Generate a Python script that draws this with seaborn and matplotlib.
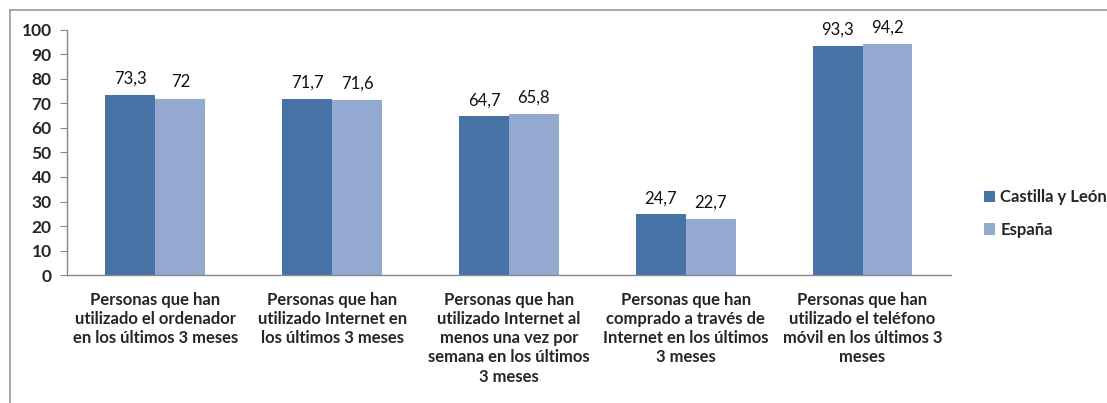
import matplotlib
matplotlib.use("Agg")
import matplotlib.pyplot as plt
import seaborn as sns
import pandas as pd
from matplotlib.lines import Line2D
from matplotlib.patches import Patch

categories = [
    "Personas que han\nutilizado el ordenador\nen los últimos 3 meses",
    "Personas que han\nutilizado Internet en\nlos últimos 3 meses",
    "Personas que han\nutilizado Internet al\nmenos una vez por\nsemana en los últimos\n3 meses",
    "Personas que han\ncomprado a través de\nInternet en los últimos\n3 meses",
    "Personas que han\nutilizado el teléfono\nmóvil en los últimos 3\nmeses",
]
series_names = ["Castilla y León", "España"]
castilla = [73.3, 71.7, 64.7, 24.7, 93.3]
espana = [72, 71.6, 65.8, 22.7, 94.2]
yticks = list(range(0, 101, 10))

colors = ["#4672A5", "#94A9CF"]

sns.set_style("white")
plt.rcParams['font.family'] = ['Lato', 'DejaVu Sans']

df = pd.DataFrame({
    "cat": categories * 2,
    "serie": [series_names[0]] * 5 + [series_names[1]] * 5,
    "val": castilla + espana,
})

fig = plt.figure(figsize=(11.07, 4.03), dpi=100)
ax = fig.add_axes([0.0605, 0.3176, 0.7985, 0.608])
sns.barplot(data=df, x="cat", y="val", hue="serie", palette=colors,
            width=0.565, saturation=1, ax=ax, legend=False, errorbar=None,
            linewidth=0, edgecolor="none")

def fmt(v):
    s = ("%.1f" % v).rstrip("0").rstrip(".")
    return s.replace(".", ",")

for cont in ax.containers:
    ax.bar_label(cont, labels=[fmt(b.get_height()) for b in cont],
                 padding=6, fontsize=12, color="#111111")

ax.set_ylim(0, 100)
ax.set_xlim(-0.5, 4.5)
ax.set_yticks(yticks)
ax.set_yticklabels([str(t) for t in yticks], fontsize=12.5, fontweight="bold")
ax.set_xticks(range(5))
ax.set_xticklabels(categories, fontsize=12, fontweight="bold", linespacing=1.25)
ax.set_xticks([i - 0.5 for i in range(6)], minor=True)
ax.tick_params(axis="x", which="major", length=0, pad=12)
ax.tick_params(axis="x", which="minor", length=5, color="#888888", direction="out")
ax.tick_params(axis="y", length=5, color="#888888", direction="out", left=True, pad=6)
ax.set_xlabel("")
ax.set_ylabel("")
for s in ["top", "right"]:
    ax.spines[s].set_visible(False)
for s in ["left", "bottom"]:
    ax.spines[s].set_color("#888888")
    ax.spines[s].set_linewidth(1)

handles = [Patch(facecolor=c, edgecolor="none") for c in colors]
fig.legend(handles, series_names, loc="center left", bbox_to_anchor=(0.875, 0.47),
           frameon=False, prop={"weight": "bold", "size": 12},
           handlelength=0.7, handleheight=0.7, handletextpad=0.3, labelspacing=1.0)

# outer frame
fig.add_artist(Line2D([10 / 1107, 1.0], [1 - 10 / 403, 1 - 10 / 403],
                      transform=fig.transFigure, color="#999999", lw=1.2))
fig.add_artist(Line2D([10 / 1107, 10 / 1107], [1 - 10 / 403, 0],
                      transform=fig.transFigure, color="#999999", lw=1.2))

fig.savefig("out.png", dpi=100)
